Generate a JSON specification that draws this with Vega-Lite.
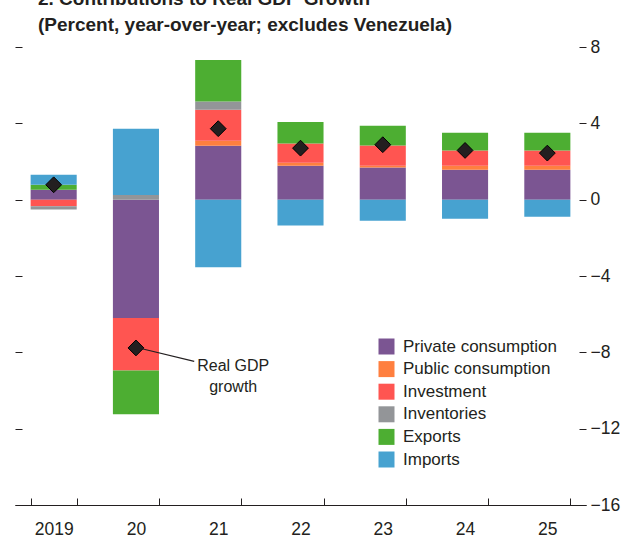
{
  "$schema": "https://vega.github.io/schema/vega-lite/v6.json",
  "width": 571,
  "height": 458,
  "autosize": {"type": "none"},
  "padding": {"left": 15, "top": 47, "right": 37, "bottom": 33},
  "background": "white",
  "title": {
    "text": "2. Contributions to Real GDP Growth",
    "subtitle": "(Percent, year-over-year; excludes Venezuela)",
    "anchor": "start",
    "frame": "group",
    "dx": 23,
    "font": "Liberation Sans",
    "fontWeight": "bold",
    "fontSize": 19,
    "color": "#231F20",
    "subtitleFont": "Liberation Sans",
    "subtitleFontWeight": "bold",
    "subtitleFontSize": 19,
    "subtitleColor": "#231F20",
    "subtitlePadding": 7,
    "offset": 3
  },
  "config": {
    "view": {"stroke": null},
    "font": "Liberation Sans",
    "axis": {
      "labelFont": "Liberation Sans",
      "labelFontSize": 17.5,
      "labelColor": "#231F20",
      "tickColor": "#231F20",
      "grid": false,
      "title": null
    }
  },
  "datasets": {
    "contrib": [
      {"year": "2019", "component": "Private consumption", "k": 1, "value": 0.52},
      {"year": "2019", "component": "Investment", "k": 3, "value": -0.35},
      {"year": "2019", "component": "Inventories", "k": 4, "value": -0.17},
      {"year": "2019", "component": "Exports", "k": 5, "value": 0.26},
      {"year": "2019", "component": "Imports", "k": 6, "value": 0.52},
      {"year": "20", "component": "Private consumption", "k": 1, "value": -6.2},
      {"year": "20", "component": "Investment", "k": 3, "value": -2.75},
      {"year": "20", "component": "Inventories", "k": 4, "value": 0.25},
      {"year": "20", "component": "Exports", "k": 5, "value": -2.3},
      {"year": "20", "component": "Imports", "k": 6, "value": 3.46},
      {"year": "21", "component": "Private consumption", "k": 1, "value": 2.83},
      {"year": "21", "component": "Public consumption", "k": 2, "value": 0.26},
      {"year": "21", "component": "Investment", "k": 3, "value": 1.62},
      {"year": "21", "component": "Inventories", "k": 4, "value": 0.43},
      {"year": "21", "component": "Exports", "k": 5, "value": 2.18},
      {"year": "21", "component": "Imports", "k": 6, "value": -3.54},
      {"year": "22", "component": "Private consumption", "k": 1, "value": 1.78},
      {"year": "22", "component": "Public consumption", "k": 2, "value": 0.16},
      {"year": "22", "component": "Investment", "k": 3, "value": 1.0},
      {"year": "22", "component": "Exports", "k": 5, "value": 1.13},
      {"year": "22", "component": "Imports", "k": 6, "value": -1.36},
      {"year": "23", "component": "Private consumption", "k": 1, "value": 1.68},
      {"year": "23", "component": "Public consumption", "k": 2, "value": 0.1},
      {"year": "23", "component": "Investment", "k": 3, "value": 1.06},
      {"year": "23", "component": "Exports", "k": 5, "value": 1.03},
      {"year": "23", "component": "Imports", "k": 6, "value": -1.1},
      {"year": "24", "component": "Private consumption", "k": 1, "value": 1.57},
      {"year": "24", "component": "Public consumption", "k": 2, "value": 0.21},
      {"year": "24", "component": "Investment", "k": 3, "value": 0.79},
      {"year": "24", "component": "Exports", "k": 5, "value": 0.94},
      {"year": "24", "component": "Imports", "k": 6, "value": -1.0},
      {"year": "25", "component": "Private consumption", "k": 1, "value": 1.57},
      {"year": "25", "component": "Public consumption", "k": 2, "value": 0.21},
      {"year": "25", "component": "Investment", "k": 3, "value": 0.79},
      {"year": "25", "component": "Exports", "k": 5, "value": 0.94},
      {"year": "25", "component": "Imports", "k": 6, "value": -0.89}
    ],
    "gdp": [
      {"year": "2019", "gdp": 0.78},
      {"year": "20", "gdp": -7.77},
      {"year": "21", "gdp": 3.72},
      {"year": "22", "gdp": 2.7},
      {"year": "23", "gdp": 2.88},
      {"year": "24", "gdp": 2.58},
      {"year": "25", "gdp": 2.44}
    ],
    "connector": [
      {"from": "20", "to": "21", "y1": -7.8, "y2": -8.47}
    ],
    "note": [
      {"year": "21", "y": -8.97, "label": "Real GDP\ngrowth"}
    ]
  },
  "layer": [
    {
      "data": {"name": "contrib"},
      "mark": {"type": "bar"},
      "encoding": {
        "x": {
          "field": "year",
          "type": "nominal",
          "sort": null,
          "scale": {"domain": ["2019", "20", "21", "22", "23", "24", "25"], "paddingInner": 0.44, "paddingOuter": 0.19},
          "axis": {
            "title": null,
            "domain": true,
            "domainColor": "#231F20",
            "domainWidth": 1,
            "tickBand": "extent",
            "tickSize": -7,
            "labelAngle": 0,
            "labelPadding": 22
          }
        },
        "y": {
          "field": "value",
          "type": "quantitative",
          "stack": "zero",
          "scale": {"domain": [-16, 8], "nice": false, "zero": false},
          "axis": {
            "orient": "right",
            "values": [8, 4, 0, -4, -8, -12, -16],
            "title": null,
            "domain": false,
            "tickSize": -7,
            "labelPadding": 11,
            "labelAlign": "left",
            "labelBaseline": "middle"
          }
        },
        "color": {
          "field": "component",
          "type": "nominal",
          "scale": {
            "domain": ["Private consumption", "Public consumption", "Investment", "Inventories", "Exports", "Imports"],
            "range": ["#7B5592", "#FF7F3F", "#FF5551", "#939598", "#4DAE32", "#47A2D0"]
          },
          "legend": {
            "title": null,
            "orient": "none",
            "legendX": 363,
            "legendY": 291,
            "symbolType": "square",
            "symbolSize": 256,
            "symbolStrokeWidth": 0,
            "labelFont": "Liberation Sans",
            "labelFontSize": 17,
            "labelColor": "#231F20",
            "labelOffset": 8,
            "labelLimit": 400,
            "rowPadding": 4.6
          }
        },
        "order": {"field": "k", "type": "quantitative"}
      }
    },
    {
      "mark": {"type": "rule", "color": "#4D4D4D", "strokeWidth": 1.5},
      "encoding": {"y": {"datum": 0, "type": "quantitative", "axis": null}}
    },
    {
      "data": {"name": "gdp"},
      "mark": {"type": "point", "shape": "diamond", "filled": true, "size": 250, "color": "#231F20", "stroke": "#000000", "strokeWidth": 1, "opacity": 1},
      "encoding": {
        "x": {"field": "year", "type": "nominal", "sort": null},
        "y": {
          "field": "gdp",
          "type": "quantitative",
          "scale": {"domain": [-16, 8], "nice": false, "zero": false},
          "axis": {
            "orient": "left",
            "values": [8, 4, 0, -4, -8, -12, -16],
            "title": null,
            "labels": false,
            "domain": false,
            "tickSize": -7
          }
        }
      }
    },
    {
      "data": {"name": "connector"},
      "mark": {"type": "rule", "color": "#231F20", "strokeWidth": 1.2, "xOffset": 5, "x2Offset": -24},
      "encoding": {
        "x": {"field": "from", "type": "nominal", "sort": null},
        "x2": {"field": "to"},
        "y": {"field": "y1", "type": "quantitative", "axis": null},
        "y2": {"field": "y2"}
      }
    },
    {
      "data": {"name": "note"},
      "mark": {"type": "text", "lineBreak": "\n", "align": "center", "baseline": "alphabetic", "dx": 15, "fontSize": 16, "lineHeight": 21, "color": "#231F20", "font": "Liberation Sans"},
      "encoding": {
        "x": {"field": "year", "type": "nominal", "sort": null},
        "y": {"field": "y", "type": "quantitative", "axis": null},
        "text": {"field": "label"}
      }
    }
  ],
  "resolve": {"axis": {"y": "independent"}}
}
